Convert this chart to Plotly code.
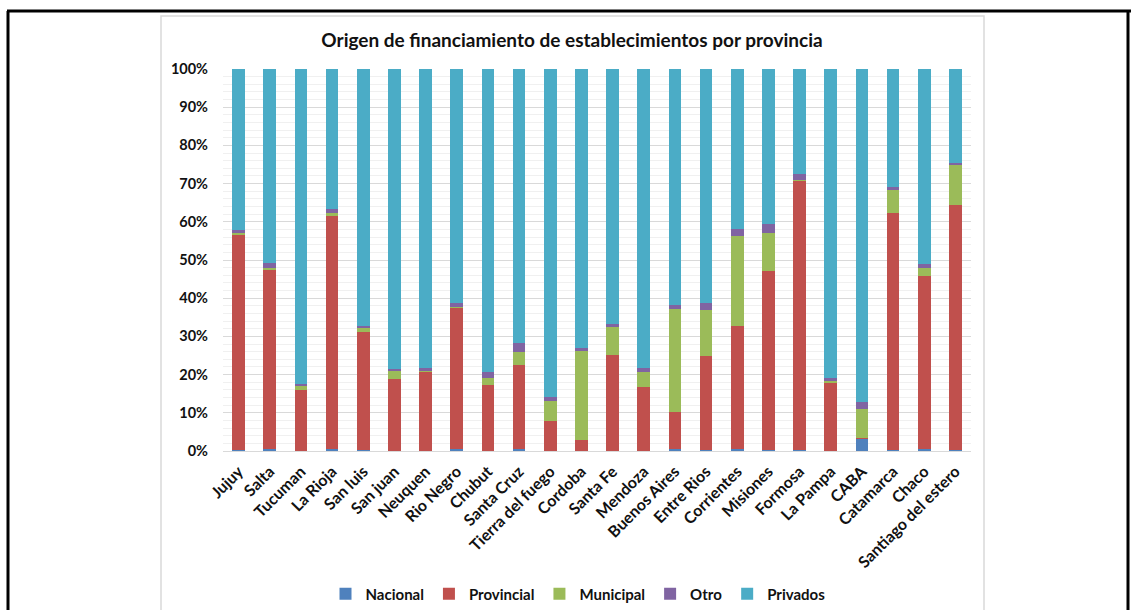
import plotly.graph_objects as go

# Share of establishments (%) by funding origin
provincias = [
    'Jujuy', 'Salta', 'Tucuman', 'La Rioja', 'San luis', 'San juan', 'Neuquen',
    'Rio Negro', 'Chubut', 'Santa Cruz', 'Tierra del fuego', 'Cordoba', 'Santa Fe',
    'Mendoza', 'Buenos Aires', 'Entre Rios', 'Corrientes', 'Misiones', 'Formosa',
    'La Pampa', 'CABA', 'Catamarca', 'Chaco', 'Santiago del estero'
]
nacional = [0.2, 0.4, 0.0, 0.4, 0.2, 0.0, 0.0, 0.4, 0.0, 0.5, 0.0, 0.0,
            0.0, 0.0, 0.4, 0.2, 0.4, 0.2, 0.2, 0.0, 3.2, 0.3, 0.5, 0.2]
provincial = [56.4, 47.1, 16.0, 61.0, 31.0, 18.8, 20.9, 37.2, 17.4, 22.1, 7.9, 2.8,
              25.2, 16.8, 9.9, 24.8, 32.2, 46.8, 70.6, 18.0, 0.2, 61.9, 45.3, 64.3]
municipal = [0.4, 0.5, 1.1, 0.8, 1.2, 2.2, 0.1, 0.2, 1.8, 3.2, 5.2, 23.4,
             7.3, 3.9, 26.9, 12.0, 23.6, 10.0, 0.1, 0.4, 7.5, 6.1, 2.0, 10.5]
otro = [0.9, 1.3, 0.5, 1.2, 0.3, 0.5, 0.8, 1.0, 1.5, 2.5, 1.1, 0.7,
        0.8, 1.1, 1.1, 1.7, 2.0, 2.3, 1.7, 0.8, 1.9, 0.7, 1.2, 0.3]
privados = [42.1, 50.7, 82.4, 36.6, 67.3, 78.5, 78.2, 61.2, 79.3, 71.7, 85.8, 73.1,
            66.7, 78.2, 61.7, 61.3, 41.8, 40.7, 27.4, 80.8, 87.2, 31.0, 51.0, 24.7]

y_ticks = list(range(0, 101, 10))
y_tick_labels = [f'{v}%' for v in y_ticks]

SERIES = [
    ('Nacional', nacional, '#4F81BD'),
    ('Provincial', provincial, '#C0504D'),
    ('Municipal', municipal, '#9BBB59'),
    ('Otro', otro, '#8064A2'),
    ('Privados', privados, '#4BACC6'),
]

FONT = 'Lato'
TEXT_COLOUR = '#111111'

W, H = 1131, 610
# plot area in pixels
L, R, T, B = 223, 971, 69, 451


def px(x):
    return (x - L) / (R - L)


def py(y):
    return (B - y) / (B - T)


fig = go.Figure()
for name, vals, colour in SERIES:
    fig.add_trace(go.Bar(x=provincias, y=vals, name=name,
                         marker=dict(color=colour, line=dict(width=0))))

shapes = [
    # outer black frame
    dict(type='line', xref='paper', yref='paper', x0=px(7), x1=px(1131), y0=py(11), y1=py(11),
         line=dict(color='black', width=3)),
    dict(type='line', xref='paper', yref='paper', x0=px(8), x1=px(8), y0=py(11), y1=py(612),
         line=dict(color='black', width=3)),
    dict(type='line', xref='paper', yref='paper', x0=px(1128), x1=px(1128), y0=py(11), y1=py(612),
         line=dict(color='black', width=3)),
    # chart box
    dict(type='rect', xref='paper', yref='paper', x0=px(161), x1=px(984), y0=py(16), y1=py(640),
         line=dict(color='#d9d9d9', width=1.5), layer='below'),
]

fig.update_layout(
    width=W, height=H,
    margin=dict(l=L, r=W - R, t=T, b=H - B, autoexpand=False),
    paper_bgcolor='white', plot_bgcolor='white',
    barmode='stack', bargap=0.59,
    font=dict(family=FONT, size=14, color=TEXT_COLOUR),
    title=dict(text='<b>Origen de financiamiento de establecimientos por provincia</b>',
               x=572 / W, xref='container', xanchor='center',
               y=1 - 40 / H, yref='container', yanchor='middle',
               font=dict(family=FONT, size=19, color=TEXT_COLOUR)),
    legend=dict(orientation='h', x=px(578), xanchor='center', y=py(594), yanchor='middle',
                font=dict(family=FONT, size=15, color=TEXT_COLOUR, weight='bold'),
                traceorder='normal', itemwidth=30),
    shapes=shapes,
)
fig.update_yaxes(range=[0, 100], tickvals=y_ticks, ticktext=y_tick_labels,
                 showgrid=True, gridcolor='#d9d9d9', gridwidth=1,
                 minor=dict(dtick=2, showgrid=True, gridcolor='#f0f0f0', gridwidth=1),
                 zeroline=False, showline=False, ticks='', ticklabelstandoff=14,
                 tickfont=dict(family=FONT, size=14.5, color=TEXT_COLOUR, weight='bold'))
fig.update_xaxes(tickangle=-45, showline=True, linecolor='#d9d9d9', linewidth=1,
                 ticks='', showgrid=False, ticklabelstandoff=4,
                 tickfont=dict(family=FONT, size=16, color=TEXT_COLOUR, weight='bold'))

fig.write_html('out.html', config={'displayModeBar': False},
               post_script="document.body.style.margin='0';")
